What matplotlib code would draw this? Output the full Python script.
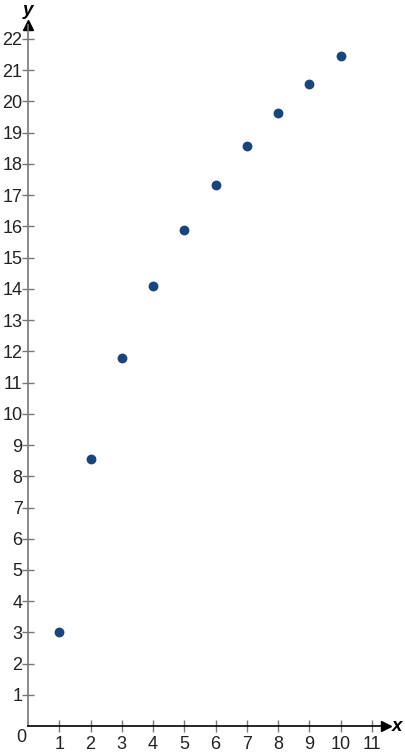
import matplotlib
matplotlib.use("Agg")
import matplotlib.pyplot as plt

x_vals = [1, 2, 3, 4, 5, 6, 7, 8, 9, 10]
y_vals = [3.0, 8.54, 11.78, 14.09, 15.88, 17.33, 18.57, 19.63, 20.55, 21.46]
x_ticks = list(range(1, 12))
y_ticks = list(range(1, 23))

plt.rcParams['font.family'] = ['Liberation Sans', 'DejaVu Sans']

W, H = 406, 752
fig = plt.figure(figsize=(W / 100, H / 100), dpi=100)

# pixel layout: origin at (28, 726), ~31.25 px per unit
ox, oy, unit = 28.1, 726.2, 31.24
xmax, ymax = 11.45, 22.45
ax = fig.add_axes([ox / W, (H - oy) / H, xmax * unit / W, ymax * unit / H])
ax.set_xlim(0, xmax)
ax.set_ylim(0, ymax)

ax.scatter(x_vals, y_vals, s=50, color='#17457c', zorder=3, linewidths=0)

for s in ['top', 'right']:
    ax.spines[s].set_visible(False)
ax.spines['left'].set_color('#777777')
ax.spines['bottom'].set_color('black')
ax.spines['left'].set_linewidth(1.2)
ax.spines['bottom'].set_linewidth(1.2)

ax.set_xticks(x_ticks)
ax.set_yticks(y_ticks)
ax.tick_params(axis='both', direction='inout', length=8, width=1, color='#777777',
               labelsize=13, labelcolor='#222222')
ax.tick_params(axis='y', pad=0)
ax.tick_params(axis='x', pad=3)

# arrows
ax.plot(1, 0, '>', color='black', markersize=7, transform=ax.get_yaxis_transform(), clip_on=False)
ax.plot(0, 1, '^', color='black', markersize=7, transform=ax.get_xaxis_transform(), clip_on=False)

ax.text(-0.22, -0.36, '0', ha='center', va='center', fontsize=13, color='#222222')
ax.text(xmax + 0.2, 0, 'x', ha='left', va='center', fontsize=13.5, fontweight='bold', fontstyle='italic')
ax.text(0, ymax + 0.45, 'y', ha='center', va='center', fontsize=13.5, fontweight='bold', fontstyle='italic')

fig.savefig('out.png', dpi=100)
